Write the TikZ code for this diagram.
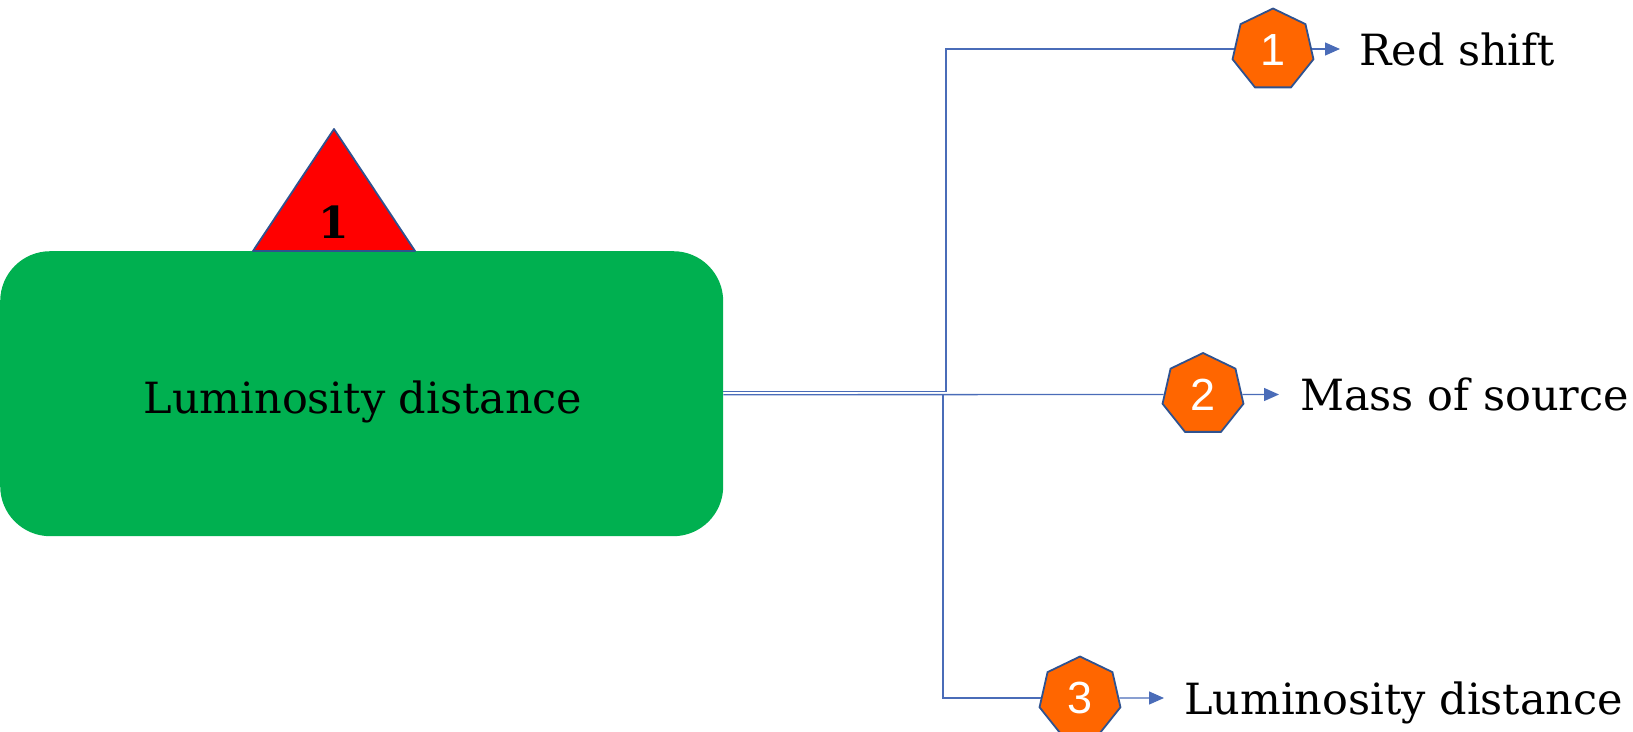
\documentclass[tikz,border=0pt]{standalone}
\usepackage{fontspec}
\setmainfont{DejaVu Serif}
\newfontfamily\numfont{Liberation Sans}
\usetikzlibrary{shapes.geometric,arrows.meta}
\definecolor{boxgreen}{HTML}{00B050}
\definecolor{hepfill}{HTML}{FF6600}
\definecolor{edgeblue}{HTML}{2F528F}
\definecolor{linkblue}{HTML}{4A6CB8}
\tikzset{
  link/.style={draw=linkblue, line width=1.3pt},
  arrowlink/.style={link, -{Triangle[length=15pt,width=13pt]}},
  hept/.style={regular polygon, regular polygon sides=7, minimum size=83pt, inner sep=0pt,
    fill=hepfill, draw=edgeblue, line width=1.8pt, text=white,
    font=\numfont\fontsize{45}{50}\selectfont},
  bigtext/.style={font=\fontsize{43}{50}\selectfont, inner sep=0pt},
}
\begin{document}
\begin{tikzpicture}[x=1pt,y=-1pt]
\useasboundingbox (0,0) rectangle (1633,731);
% main box
\node[fill=boxgreen, rounded corners=50pt, minimum width=723pt, minimum height=285pt,
      inner sep=0pt, anchor=north west] (box) at (0,251) {};
\node[bigtext, anchor=base] (boxtext) at (363,413) {Luminosity distance};
% triangle marker
\draw[fill=red, draw=edgeblue, line width=1.8pt, line join=round] (253,251) -- (334,129) -- (415,251) -- cycle;
\node[font=\bfseries\fontsize{44}{50}\selectfont, inner sep=0pt] (tri) at (334,222) {1};
% junction coordinates
\coordinate (j1) at (946,49);
\coordinate (j3) at (943,394.5);
% heptagons
\node[hept] (h1) at (1273,50) {1};
\node[hept] (h2) at (1203,394.5) {2};
\node[hept] (h3) at (1080,698) {3};
% connectors
\draw[link] ([yshift=2pt]box.east) -| (j1) -- (h1.west |- j1);
\draw[link] ([yshift=-1pt]box.east) -- (h2);
\draw[link] (j3) |- (h3);
% right labels
\node[bigtext, anchor=base west] (t1) at (1359,65) {Red shift};
\node[bigtext, anchor=base west] (t2) at (1300,410.5) {Mass of source};
\node[bigtext, anchor=base west] (t3) at (1184,714) {Luminosity distance};
\coordinate (a1) at (1340,49);
\coordinate (a2) at (1279,394.5);
\coordinate (a3) at (1164,698);
\draw[arrowlink] (h1.east |- a1) -- (a1);
\draw[arrowlink] (h2.east) -- (a2);
\draw[arrowlink] (h3.east) -- (a3);
\end{tikzpicture}
\end{document}
